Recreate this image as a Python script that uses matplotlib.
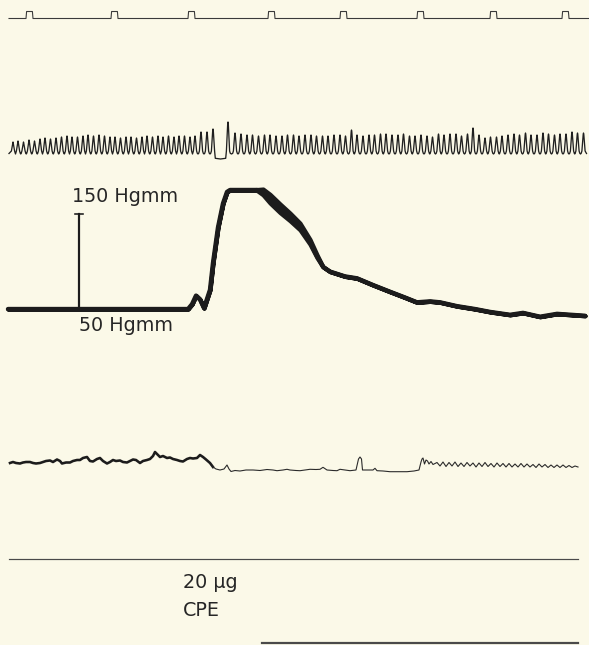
import numpy as np
import matplotlib
matplotlib.use("Agg")
import matplotlib.pyplot as plt

W, H = 589, 645
paper = "#fbf9e8"
ink = "#1c1c1c"

# time marker channel (chart position of each pulse)
marker_start, marker_end = 9, 589
marker_pulses = [26, 111, 188, 268, 340, 417, 490, 562]
marker_width = 7
marker_height = 7

# heart beats: chart position and spike height
ecg_beats = [13, 18, 23.5, 29, 34.5, 40, 45, 50.5, 56, 61.5, 67, 72, 77.5, 83, 88,
             93.5, 99, 104.5, 110, 115, 120.5, 126, 131, 136.5, 142, 147, 152.5, 158,
             163, 168.5, 174, 179, 184.5, 190, 195,
             201, 207, 213, 228,
             235, 241, 247, 252.5, 258.5, 264.5, 270, 276, 282, 287.5, 293.5, 299, 305,
             311, 316.5, 322.5, 328, 334, 340, 345.5, 351.5, 357, 363, 369, 374.5,
             380.5, 386, 392, 398, 403.5, 409.5, 415, 421, 427, 432.5, 438.5, 444, 450,
             456, 461.5, 467.5, 473, 479, 485, 490.5, 496.5, 502, 508, 514, 519.5,
             525.5, 531, 537, 543, 548.5, 554.5, 560, 566, 572, 577.5, 583.5]
ecg_height = [12, 13, 12, 14, 13, 15, 16, 15, 16, 17, 18, 17, 17, 18, 19, 18, 19, 18,
              17, 17, 16, 17, 17, 16, 17, 18, 17, 18, 17, 18, 17, 18, 18, 17, 18,
              22, 22, 25, 32,
              21, 20, 19, 19, 18, 19, 19, 18, 18, 19, 19, 18, 19, 19, 18, 18, 18, 19,
              19, 18, 24, 19, 18, 19, 19, 20, 20, 19, 19, 20, 18, 18, 19, 18, 17, 20,
              19, 20, 20, 18, 20, 26, 19, 16, 17, 17, 18, 19, 20, 19, 21, 19, 19, 21,
              20, 19, 20, 20, 22, 21, 21]
ecg_dips = {213: -5}

# arterial pressure (Hgmm) and pulse half-amplitude
bp_pos = [8, 40, 80, 120, 160, 188, 192, 196, 200, 204, 210, 213, 218, 223, 227,
          230, 245, 257, 263, 270, 280, 290, 300, 310, 317, 323, 330, 345, 357, 373,
          390, 405, 417, 430, 440, 457, 475, 490, 510, 523, 540, 557, 585]
bp_mmhg = [51, 51, 51, 51, 51, 51, 56, 65, 61, 52, 71, 99, 136, 161, 173,
           175, 175, 175, 173, 166, 156, 147, 137, 121, 106, 95, 90, 85, 83, 76,
           69, 63, 58, 59, 58, 54, 51, 48, 45, 47, 43, 46, 44]
bp_pulse = [0, 0, 0, 0, 0, 0, 0, 0, 0, 0, 0, 0, 0, 0, 0,
            0, 0, 0.5, 3, 4.5, 4.5, 4, 3.5, 2.5, 1.5, 0, 0, 0, 0, 0,
            0, 0, 0, 0, 0, 0, 0, 0, 0, 0, 0, 0, 0]
cal_low, cal_high = 50, 150
cal_pos = 79

# respiration channel deflection
resp_pos = [10, 13, 16, 20, 23, 26, 30, 33, 36, 40, 43, 46, 50, 53, 57, 60, 62, 66,
            70, 73, 77, 80, 83, 87, 90, 93, 97, 100, 103, 107, 110, 113, 116, 120,
            123, 127, 130, 133, 136, 140, 143, 147, 150, 153, 155, 158, 160, 163,
            167, 170, 173, 177, 180, 183, 187, 190, 193, 197, 200, 203, 206, 210, 213,
            216, 220, 224, 227, 229, 231, 235, 240, 246, 253, 260, 267, 273, 277,
            283, 287, 290, 296, 300, 305, 310, 316, 320, 323, 327, 333, 337, 340,
            345, 350, 356, 358.5, 360, 361.5, 362.5, 368, 373, 375, 377, 383, 390,
            400, 407, 414, 419, 421, 422, 423, 424.5, 426, 427.5, 429, 431, 433,
            437, 440, 443, 446, 449, 452, 455, 458, 461, 464, 467, 470, 473, 476,
            479, 482, 485, 488, 491, 494, 497, 500, 503, 506, 509, 512, 515, 518,
            521, 524, 527, 530, 533, 536, 539, 542, 545, 548, 551, 554, 557, 560,
            563, 566, 569, 572, 575, 578]
resp_defl = [7, 8, 7, 6.5, 7.5, 8, 8, 7, 6.5, 7, 8, 9, 9.5, 8, 10.5, 9, 6.5, 7.5,
             7.5, 9, 10, 10, 12, 13, 9, 8.5, 11, 12, 9, 6.5, 8, 10, 9, 9.5,
             8, 7.5, 9, 10.5, 10, 7, 9, 10, 11, 14, 18, 15, 13, 14,
             12, 12.5, 11, 10, 9, 8.5, 11, 12, 11.5, 12, 15, 13, 10.5, 7, 3,
             1, 0, 1, 5, 1, -1.5, -0.5, -1, 0, 0, -0.5, 0.5, 0, -0.7,
             0, 0.7, 0, -0.5, -0.7, 0, 0.7, 0.5, 0.7, 2.7, 0, -0.5, -0.7, 0.7,
             0, -0.7, 0, 11, 13, 11, 0, 0, 0, 1.7, -0.7, -1, -1.7,
             -1.7, -1.7, -1, 0, 8, 11, 12, 6, 10, 9, 6, 8.5, 5.5,
             7.5, 4, 8, 3.5, 7.5, 4, 8, 3.5, 7, 3.5, 7.5, 4, 7, 3,
             7, 3.5, 7.5, 3.5, 6.5, 3, 7, 3.5, 6.5, 3, 6.5, 3, 6, 3,
             6.5, 3, 6, 3, 5.5, 2.5, 6, 3, 5.5, 2.5, 5, 2.5, 5, 2.5,
             5, 2.5, 4.5, 2.5, 4, 3]
resp_heavy_until = 213

dose_text = ["20 µg", "CPE"]
dose_pos = 183

plt.rcParams["font.family"] = ["DejaVu Sans"]
fig = plt.figure(figsize=(W / 100, H / 100), dpi=100, facecolor=paper)


def band(top, bottom, p0, v0=0.0, s=1.0):
    # axes strip between two pixel rows; value v0 sits at row p0, s px per unit
    ax = fig.add_axes([0, 1 - bottom / H, 1, (bottom - top) / H])
    ax.set_xlim(0, W)
    ax.set_ylim(v0 - (bottom - p0) / s, v0 + (p0 - top) / s)
    ax.axis("off")
    ax.patch.set_alpha(0)
    return ax


def px(v):
    return v * 0.72


# time marker
ax_t = band(0, 40, 18.5)
tx, ty = [marker_start], [0]
for p in marker_pulses:
    tx += [p, p + 0.6, p + marker_width - 0.6, p + marker_width]
    ty += [0, marker_height, marker_height, 0]
tx.append(marker_end)
ty.append(0)
ax_t.plot(tx, ty, color="#3a3a3a", lw=px(1.1))

# heart beats
ax_e = band(100, 175, 154)
ex, ey = [9], [0.5]
for i, (b, h) in enumerate(zip(ecg_beats, ecg_height)):
    ex += [b - 1.6, b - 0.3, b, b + 0.3, b + 1.6]
    ey += [3, h - 1.5, h, h - 1.5, 3]
    if i < len(ecg_beats) - 1:
        nb = ecg_beats[i + 1]
        lo = ecg_dips.get(b, 0)
        ex += [b + 2.3, (b + nb) / 2, nb - 2.3]
        ey += [lo + 0.7, lo, lo + 0.7]
ex.append(586.5)
ey.append(0.5)
ax_e.plot(ex, ey, color="#202020", lw=px(1.3))

# arterial pressure with calibration bar
ax_b = band(175, 345, 310, 50, 0.96)
bx = np.array(bp_pos, float)
by = np.array(bp_mmhg, float)
bw = np.array(bp_pulse, float)
ax_b.fill_between(bx, by - bw, by + bw, facecolor=ink, edgecolor=ink, lw=px(4.2))
ax_b.plot(bx, by, color=ink, lw=px(4.4), solid_capstyle="round", solid_joinstyle="round")
ax_b.plot([cal_pos, cal_pos], [cal_low, cal_high], color=ink, lw=px(2.2))
ax_b.plot([cal_pos - 4, cal_pos + 4], [cal_high, cal_high], color=ink, lw=px(1.6))
ax_b.annotate(f"{cal_high} Hgmm", xy=(cal_pos, cal_high), xytext=(-7, 17),
              textcoords="offset pixels", ha="left", va="center",
              fontsize=13.8, color="#262626")
ax_b.annotate(f"{cal_low} Hgmm", xy=(cal_pos, cal_low), xytext=(0, -16),
              textcoords="offset pixels", ha="left", va="center",
              fontsize=13.8, color="#262626")

# respiration
ax_r = band(430, 500, 470)
rp = np.array(resp_pos, float)
rd = np.array(resp_defl, float)
heavy = rp <= resp_heavy_until
light = rp >= resp_heavy_until
ax_r.plot(rp[heavy], rd[heavy], color=ink, lw=px(2.6), solid_joinstyle="round")
ax_r.plot(rp[light], rd[light], color="#2a2a2a", lw=px(1.1))

# injection channel
ax_i = band(540, 645, 559)
ax_i.plot([9, 578], [0, 0], color="#4a4a4a", lw=px(1.2))
ax_i.plot([262, 578], [-84, -84], color="#4a4a4a", lw=px(2.2))
ax_i.text(dose_pos, -24, dose_text[0], ha="left", va="center", fontsize=13.8, color="#262626")
ax_i.text(dose_pos, -52, dose_text[1], ha="left", va="center", fontsize=13.8, color="#262626")

fig.savefig("out.png", dpi=100, facecolor=paper)
